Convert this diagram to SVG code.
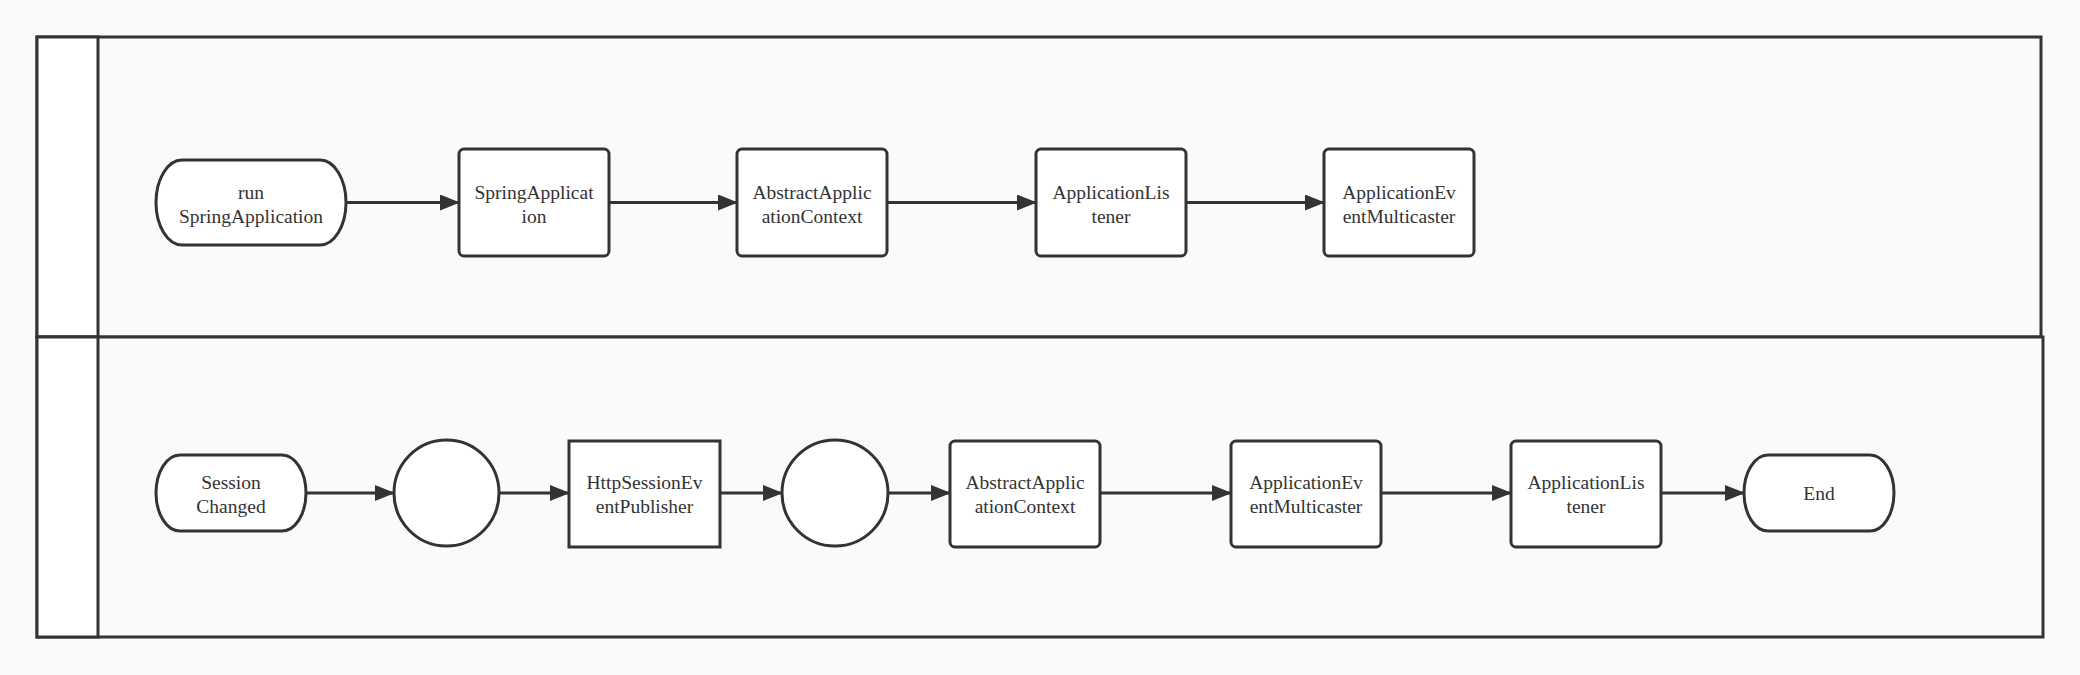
<svg xmlns="http://www.w3.org/2000/svg" width="2080" height="675" viewBox="0 0 2080 675">
<defs>
<style>
.lane{fill:#fafafa;stroke:#333;stroke-width:3}
.hdr{fill:#ffffff;stroke:#333;stroke-width:3}
.node{fill:#ffffff;stroke:#333;stroke-width:3}
.edge{fill:none;stroke:#333;stroke-width:3}
text{font-family:"Liberation Serif","Times New Roman",serif;font-size:19.5px;fill:#333;text-anchor:middle}
</style>
<marker id="arr" viewBox="0 0 20 16" refX="19" refY="8" markerWidth="20" markerHeight="16" markerUnits="userSpaceOnUse" orient="auto">
<path d="M0,0 L20,8 L0,16 Z" fill="#333"/>
</marker>
</defs>
<rect x="0" y="0" width="2080" height="675" fill="#fafafa"/>
<g id="lane1">
<rect class="lane" x="37" y="37" width="2004" height="300"/>
<rect class="hdr" x="37" y="37" width="61" height="300"/>
</g>
<g id="lane2">
<rect class="lane" x="37" y="337" width="2006" height="300"/>
<rect class="hdr" x="37" y="337" width="61" height="300"/>
</g>
<g id="connectors">
<line class="edge" x1="346" y1="202.5" x2="459" y2="202.5" marker-end="url(#arr)"/>
<line class="edge" x1="609" y1="202.5" x2="737" y2="202.5" marker-end="url(#arr)"/>
<line class="edge" x1="887" y1="202.5" x2="1036" y2="202.5" marker-end="url(#arr)"/>
<line class="edge" x1="1186" y1="202.5" x2="1324" y2="202.5" marker-end="url(#arr)"/>
<line class="edge" x1="306" y1="493" x2="394" y2="493" marker-end="url(#arr)"/>
<line class="edge" x1="499" y1="493" x2="569" y2="493" marker-end="url(#arr)"/>
<line class="edge" x1="720" y1="493" x2="782" y2="493" marker-end="url(#arr)"/>
<line class="edge" x1="888" y1="493" x2="950" y2="493" marker-end="url(#arr)"/>
<line class="edge" x1="1100" y1="493" x2="1231" y2="493" marker-end="url(#arr)"/>
<line class="edge" x1="1381" y1="493" x2="1511" y2="493" marker-end="url(#arr)"/>
<line class="edge" x1="1661" y1="493" x2="1744" y2="493" marker-end="url(#arr)"/>
</g>
<g id="n1">
<rect class="node" x="156" y="160" width="190" height="85" rx="26" ry="42.5"/>
<text x="251" y="198.5">run</text>
<text x="251" y="222.5">SpringApplication</text>
</g>
<g id="n2">
<rect class="node" x="459" y="149" width="150" height="107" rx="5"/>
<text x="534" y="198.5">SpringApplicat</text>
<text x="534" y="222.5">ion</text>
</g>
<g id="n3">
<rect class="node" x="737" y="149" width="150" height="107" rx="5"/>
<text x="812" y="198.5">AbstractApplic</text>
<text x="812" y="222.5">ationContext</text>
</g>
<g id="n4">
<rect class="node" x="1036" y="149" width="150" height="107" rx="5"/>
<text x="1111" y="198.5">ApplicationLis</text>
<text x="1111" y="222.5">tener</text>
</g>
<g id="n5">
<rect class="node" x="1324" y="149" width="150" height="107" rx="5"/>
<text x="1399" y="198.5">ApplicationEv</text>
<text x="1399" y="222.5">entMulticaster</text>
</g>
<g id="m1">
<rect class="node" x="156" y="455" width="150" height="76" rx="24" ry="38"/>
<text x="231" y="489">Session</text>
<text x="231" y="513">Changed</text>
</g>
<g id="m2">
<ellipse class="node" cx="446.5" cy="493" rx="52.5" ry="53"/>
</g>
<g id="m3">
<rect class="node" x="569" y="441" width="151" height="106"/>
<text x="644.5" y="489">HttpSessionEv</text>
<text x="644.5" y="513">entPublisher</text>
</g>
<g id="m4">
<ellipse class="node" cx="835" cy="493" rx="53" ry="53"/>
</g>
<g id="m5">
<rect class="node" x="950" y="441" width="150" height="106" rx="5"/>
<text x="1025" y="489">AbstractApplic</text>
<text x="1025" y="513">ationContext</text>
</g>
<g id="m6">
<rect class="node" x="1231" y="441" width="150" height="106" rx="5"/>
<text x="1306" y="489">ApplicationEv</text>
<text x="1306" y="513">entMulticaster</text>
</g>
<g id="m7">
<rect class="node" x="1511" y="441" width="150" height="106" rx="5"/>
<text x="1586" y="489">ApplicationLis</text>
<text x="1586" y="513">tener</text>
</g>
<g id="m8">
<rect class="node" x="1744" y="455" width="150" height="76" rx="24" ry="38"/>
<text x="1819" y="500">End</text>
</g>
</svg>
